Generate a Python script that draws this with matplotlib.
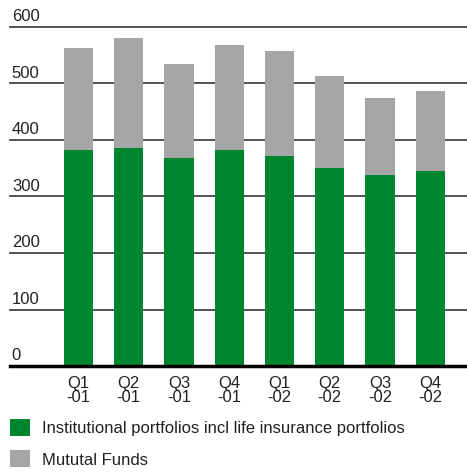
import numpy as np
import matplotlib.pyplot as plt
from matplotlib import font_manager

# Data
quarters = ['Q1\n-01', 'Q2\n-01', 'Q3\n-01', 'Q4\n-01',
            'Q1\n-02', 'Q2\n-02', 'Q3\n-02', 'Q4\n-02']
institutional = [382, 385, 369, 382, 372, 351, 338, 345]
mutual_funds = [180, 195, 166, 186, 185, 163, 137, 141]
yticks = [0, 100, 200, 300, 400, 500, 600]

green = '#00852F'
grey = '#A6A6A6'

names = {f.name for f in font_manager.fontManager.ttflist}
fam = 'Liberation Sans Narrow' if 'Liberation Sans Narrow' in names else 'Liberation Sans'
plt.rcParams['font.family'] = [fam, 'DejaVu Sans']
fs = 12

W, H = 467, 473
fig = plt.figure(figsize=(W / 100, H / 100), dpi=100)
ax = fig.add_axes([10 / W, 1 - 366 / H, 457 / W, (366 - 27) / H])

x = np.arange(len(quarters))
b1 = ax.bar(x, institutional, width=0.58, color=green, zorder=2)
b2 = ax.bar(x, mutual_funds, bottom=institutional, width=0.58, color=grey, zorder=2)

ax.set_xlim(-1.36, 7.73)
ax.set_ylim(0, 600)

# gridlines with labels sitting on top of them
for t in yticks:
    if t == 0:
        ax.axhline(t, color='black', lw=2.5, zorder=3, clip_on=False)
    else:
        ax.axhline(t, color='#333333', lw=1.2, zorder=1, clip_on=False)
    ax.annotate(str(t), xy=(0.004, t), xycoords=ax.get_yaxis_transform(),
                xytext=(0, 2), textcoords='offset points',
                ha='left', va='bottom', fontsize=fs, color='#222222',
                annotation_clip=False)

ax.set_yticks([])
ax.set_xticks(x)
ax.set_xticklabels(quarters, fontsize=fs, linespacing=0.95, color='#222222')
ax.tick_params(axis='x', length=0, pad=7)
for s in ax.spines.values():
    s.set_visible(False)

fig.legend([b1, b2],
           ['Institutional portfolios incl life insurance portfolios', 'Mututal Funds'],
           loc='upper left', bbox_to_anchor=(10 / W, 1 - 419 / H),
           frameon=False, fontsize=fs, borderpad=0, borderaxespad=0,
           handlelength=1.2, handleheight=1.2, labelspacing=0.85,
           handletextpad=0.75, labelcolor='#222222')

fig.savefig('out.png', dpi=100)
